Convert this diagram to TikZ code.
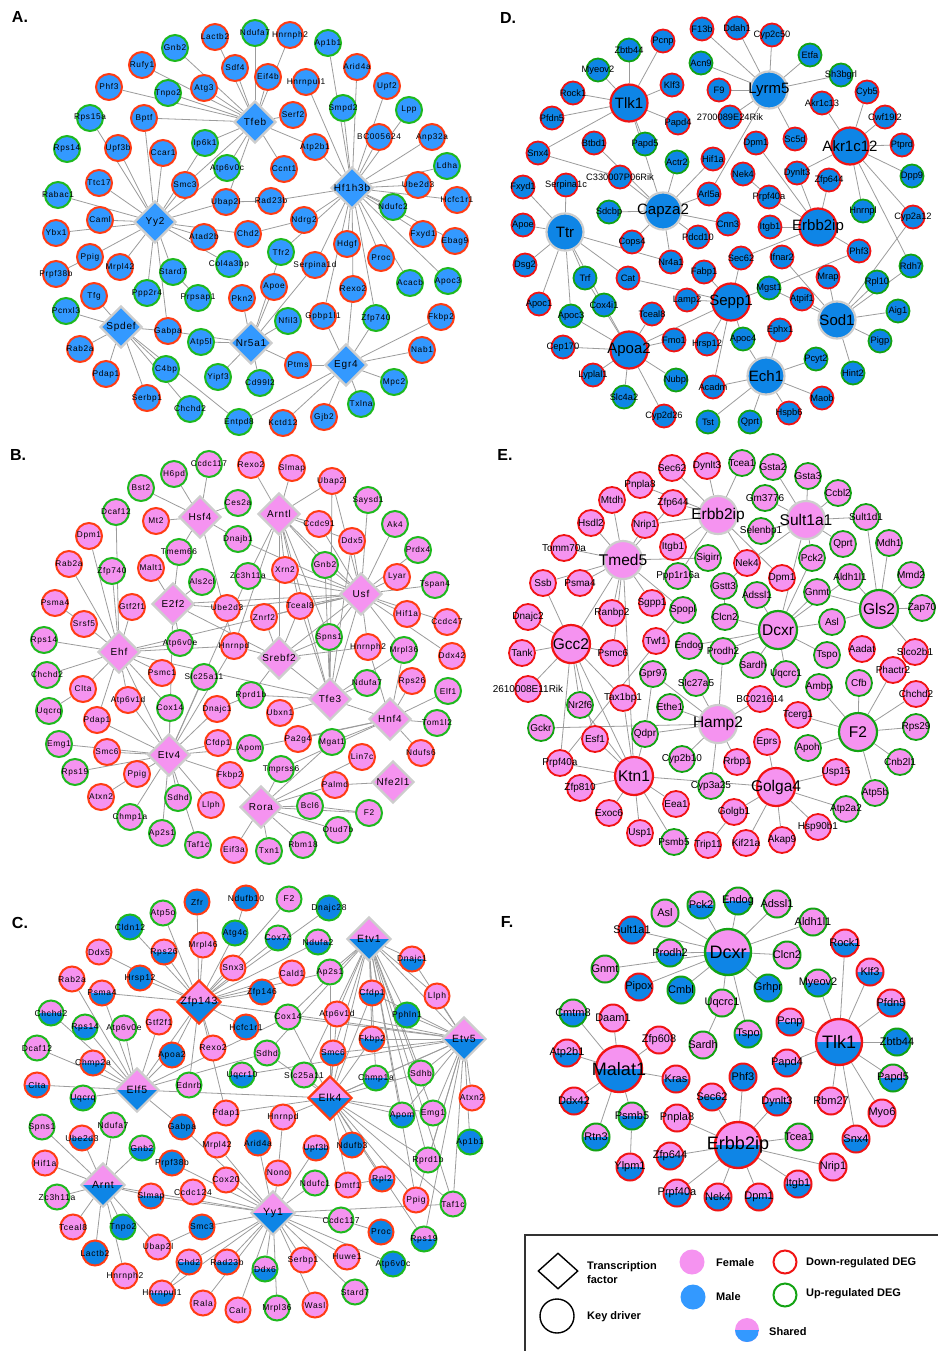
\documentclass[tikz,border=0pt]{standalone}
\usepackage{fontspec}
\setmainfont{Liberation Sans}
\setsansfont{Liberation Sans}
\newfontfamily\spc[LetterSpace=8]{Liberation Sans}
\usetikzlibrary{shapes.geometric}
\pgfdeclarelayer{back}
\pgfdeclarelayer{bg}
\pgfsetlayers{back,bg,main}
\definecolor{blA}{HTML}{3399FF}
\definecolor{blD}{HTML}{0E85E6}
\definecolor{pkA}{HTML}{F593F0}
\definecolor{rdA}{HTML}{FF3C14}
\definecolor{rdD}{HTML}{F01414}
\definecolor{gnA}{HTML}{1EB91E}
\definecolor{gnD}{HTML}{13A313}
\definecolor{gyO}{HTML}{CDCDCD}
\definecolor{edg}{HTML}{9C9C9C}
\colorlet{cB}{blA}\colorlet{cP}{pkA}\colorlet{cR}{rdA}\colorlet{cG}{gnA}
\tikzset{
 ed/.style={draw=edg,line width=0.8pt},
 gn/.style={circle,inner sep=0pt,minimum size=#1},
 fB/.style={fill=cB}, fP/.style={fill=cP},
 fS/.style={fill=cP,path picture={\fill[cB] (path picture bounding box.west) rectangle (path picture bounding box.south east);}},
 rR/.style={draw=cR}, rG/.style={draw=cG}, rY/.style={draw=gyO},
 tf/.style={diamond,inner sep=0pt,minimum width=42pt,minimum height=42pt,draw=gyO,line width=2.2pt},
 ttl/.style={font=\bfseries\fontsize{16}{16}\selectfont},
 lg/.style={anchor=west,font=\bfseries\fontsize{11}{14}\selectfont,align=left,inner sep=0pt},
}
\newcommand\G[4]{\node[pan,#1,label={[lab]center:#4}] (\pfx#4) at (#2,#3) {};}
\newcommand\K[4]{\node[pan,#1,label={[labK]center:#4}] (\pfx#4) at (#2,#3) {};}
\newcommand\T[4]{\node[tf,#1,label={[labT]center:#4}] (\pfx#4) at (#2,#3) {};}
\newcommand\E[2]{\foreach \n in {#2}{\draw[ed] (\pfx#1) -- (\pfx\n);}}
\newcommand\EE[2]{\draw[ed] (\pfx#1) -- (\pfx#2);}
\begin{document}
\begin{tikzpicture}[x=1pt,y=-1pt]
\useasboundingbox (0,0) rectangle (937,1351);
\begin{pgfonlayer}{back}
\fill[white] (0,0) rectangle (937,1351);
\end{pgfonlayer}
% ================= PANEL A =================
\def\pfx{a}
\colorlet{cB}{blA}\colorlet{cR}{rdA}\colorlet{cG}{gnA}
\tikzset{pan/.style={gn=26pt,line width=2pt,fB},
 lab/.style={font=\spc\fontsize{8.3}{9}\selectfont,inner sep=0pt},
 labT/.style={font=\spc\fontsize{10}{10}\selectfont,inner sep=0pt}}
\node[ttl] (tA) at (20,17) {A.};
\T{fB}{255}{122}{Tfeb}
\T{fB}{352}{188}{Hf1h3b}
\T{fB}{155}{222}{Yy2}
\T{fB}{121}{327}{Spdef}
\T{fB}{251}{343}{Nr5a1}
\T{fB}{346}{365}{Egr4}
\G{rR}{215}{37}{Lactb2}
\G{rG}{255}{33}{Ndufa7}
\G{rR}{290}{35}{Hnrnph2}
\G{rG}{175}{48}{Gnb2}
\G{rR}{142}{65}{Rufy1}
\G{rR}{235}{68}{Sdf4}
\G{rR}{268}{77}{Eif4b}
\G{rG}{328}{43}{Ap1b1}
\G{rR}{357}{67}{Arid4a}
\G{rR}{109}{87}{Phf3}
\G{rG}{168}{93}{Tnpo2}
\G{rR}{204}{88}{Atg3}
\G{rR}{306}{82}{Hnrnpul1}
\G{rR}{387}{86}{Upf2}
\G{rG}{343}{108}{Smpd2}
\G{rG}{409}{110}{Lpp}
\G{rG}{90}{118}{Rps15a}
\G{rR}{144}{118}{Bptf}
\G{rR}{293}{115}{Serf2}
\G{rR}{379}{137}{BC005624}
\G{rR}{432}{137}{Anp32a}
\G{rG}{67}{149}{Rps14}
\G{rR}{118}{148}{Upf3b}
\G{rR}{163}{153}{Ccar1}
\G{rG}{205}{143}{Ip6k1}
\G{rG}{227}{168}{Atp6v0c}
\G{rR}{284}{169}{Ccnt1}
\G{rR}{315}{147}{Atp2b1}
\G{rG}{447}{166}{Ldha}
\G{rR}{99}{183}{Ttc17}
\G{rR}{185}{185}{Smc3}
\G{rR}{418}{185}{Ube2d3}
\G{rR}{457}{200}{Hcfc1r1}
\G{rG}{58}{195}{Rabac1}
\G{rR}{226}{202}{Ubap2l}
\G{rR}{271}{201}{Rad23b}
\G{rG}{393}{207}{Ndufc2}
\G{rR}{100}{220}{Caml}
\G{rR}{304}{220}{Ndrg2}
\G{rR}{56}{233}{Ybx1}
\G{rR}{204}{237}{Atad2b}
\G{rR}{248}{234}{Chd2}
\G{rR}{423}{234}{Fxyd1}
\G{rR}{455}{241}{Ebag9}
\G{rR}{90}{257}{Ppig}
\G{rR}{120}{267}{Mrpl42}
\G{rR}{56}{274}{Prpf38b}
\G{rG}{173}{272}{Stard7}
\G{rG}{229}{264}{Col4a3bp}
\G{rG}{281}{252}{Tfr2}
\G{rR}{347}{244}{Hdgf}
\G{rR}{315}{265}{Serpina1d}
\G{rR}{381}{258}{Proc}
\G{rG}{410}{283}{Acacb}
\G{rG}{448}{281}{Apoc3}
\G{rR}{94}{296}{Tfg}
\G{rG}{147}{293}{Ppp2r4}
\G{rG}{198}{298}{Prpsap1}
\G{rR}{242}{298}{Pkn2}
\G{rR}{274}{287}{Apoe}
\G{rR}{353}{289}{Rexo2}
\G{rG}{66}{311}{Pcnxl3}
\G{rR}{323}{316}{Gpbp1l1}
\G{rG}{376}{318}{Zfp740}
\G{rR}{441}{317}{Fkbp2}
\G{rG}{288}{321}{Nfil3}
\G{rR}{168}{331}{Gabpa}
\G{rG}{201}{342}{Atp5l}
\G{rR}{80}{349}{Rab2a}
\G{rR}{422}{350}{Nab1}
\G{rR}{298}{365}{Ptms}
\G{rG}{166}{369}{C4bp}
\G{rR}{106}{374}{Pdap1}
\G{rG}{218}{377}{Yipf3}
\G{rG}{260}{383}{Cd99l2}
\G{rG}{394}{382}{Mpc2}
\G{rR}{147}{398}{Serbp1}
\G{rG}{190}{409}{Chchd2}
\G{rG}{361}{404}{Txlna}
\G{rR}{324}{417}{Gjb2}
\G{rG}{239}{422}{Entpd8}
\G{rR}{283}{423}{Kctd12}
\begin{pgfonlayer}{bg}
\E{Tfeb}{Gnb2,Lactb2,Ndufa7,Hnrnph2,Sdf4,Eif4b,Rufy1,Atg3,Tnpo2,Phf3,Bptf,Serf2,Atp2b1,Ccnt1,Ip6k1,Atp6v0c,Smc3,Ubap2l}
\E{Hf1h3b}{Hnrnpul1,Ap1b1,Arid4a,Upf2,Smpd2,Lpp,BC005624,Anp32a,Ldha,Ube2d3,Hcfc1r1,Ndufc2,Atp2b1,Rad23b,Ndrg2,Fxyd1,Ebag9,Hdgf,Serpina1d,Proc,Acacb,Apoc3,Rexo2,Zfp740,Gpbp1l1,Tfr2}
\E{Yy2}{Upf3b,Rps15a,Ttc17,Bptf,Ccar1,Ip6k1,Smc3,Atp6v0c,Rabac1,Caml,Ybx1,Ppig,Mrpl42,Ppp2r4,Stard7,Atad2b,Col4a3bp,Chd2,Gabpa,Ubap2l}
\E{Spdef}{Tfg,Pcnxl3,Rab2a,Pdap1,Serbp1,C4bp,Chchd2,Gabpa,Entpd8}
\E{Nr5a1}{Gabpa,Atp5l,Pkn2,Apoe,Serpina1d,Nfil3,Ptms,Yipf3,Cd99l2,Tfr2}
\E{Egr4}{Ptms,Gpbp1l1,Rexo2,Zfp740,Fkbp2,Nab1,Mpc2,Txlna,Gjb2,Kctd12,Entpd8}
\EE{Ppig}{Prpf38b}\EE{Ubap2l}{Rad23b}\EE{Chd2}{Ndrg2}\EE{Stard7}{Prpsap1}
\end{pgfonlayer}
% ================= PANEL D =================
\def\pfx{d}
\colorlet{cB}{blD}\colorlet{cR}{rdD}\colorlet{cG}{gnD}
\tikzset{pan/.style={gn=23pt,line width=1.8pt,fB},
 big/.style={gn=37pt,line width=2.2pt},
 lab/.style={font=\fontsize{9.3}{10}\selectfont,inner sep=0pt},
 labK/.style={font=\fontsize{15}{15}\selectfont,inner sep=0pt}}
\node[ttl] (tD) at (508,18) {D.};
\K{big,rR}{629}{103}{Tlk1}
\K{big,rY}{769}{90}{Lyrm5}
\K{big,rR}{850}{146}{Akr1c12}
\K{big,rY}{663}{211}{Capza2}
\K{big,rR}{818}{227}{Erbb2ip}
\K{big,rY}{565}{232}{Ttr}
\K{big,rR}{731}{302}{Sepp1}
\K{big,rY}{837}{320}{Sod1}
\K{big,rR}{629}{350}{Apoa2}
\K{big,rY}{766}{376}{Ech1}
\G{rR}{702}{29}{F13b}
\G{rR}{737}{28}{Ddah1}
\G{rR}{772}{35}{Cyp2c50}
\G{rR}{663}{41}{Pcnp}
\G{rG}{629}{50}{Zbtb44}
\G{rG}{810}{55}{Etfa}
\G{rG}{701}{63}{Acn9}
\G{rG}{598}{70}{Myeov2}
\G{rG}{841}{75}{Sh3bgrl}
\G{rR}{672}{85}{Klf3}
\G{rR}{867}{92}{Cyb5}
\G{rR}{719}{90}{F9}
\G{rR}{573}{93}{Rock1}
\G{rR}{822}{103}{Akr1c13}
\G{rR}{552}{118}{Pfdn5}
\G{rR}{730}{117}{2700089E24Rik}
\G{rR}{678}{123}{Papd4}
\G{rR}{885}{117}{Cwf19l2}
\G{rR}{902}{145}{Ptprd}
\G{rR}{594}{143}{Btbd1}
\G{rG}{645}{144}{Papd5}
\G{rR}{756}{143}{Dpm1}
\G{rR}{795}{139}{Sc5d}
\G{rR}{538}{153}{Snx4}
\G{rG}{677}{162}{Actr2}
\G{rR}{713}{159}{Hif1a}
\G{rG}{912}{176}{Dpp9}
\G{rR}{743}{174}{Nek4}
\G{rR}{797}{173}{Dynlt3}
\G{rR}{829}{180}{Zfp644}
\G{rR}{620}{177}{C330007P06Rik}
\G{rR}{523}{187}{Fxyd1}
\G{rR}{566}{185}{Serpina1c}
\G{rR}{709}{194}{Arl5a}
\G{rR}{769}{197}{Prpf40a}
\G{rG}{609}{212}{Sdcbp}
\G{rG}{863}{211}{Hnrnpl}
\G{rR}{913}{217}{Cyp2a12}
\G{rR}{728}{224}{Cnn3}
\G{rR}{770}{227}{Itgb1}
\G{rR}{523}{225}{Apoe}
\G{rR}{698}{237}{Pdcd10}
\G{rR}{632}{242}{Cops4}
\G{rR}{859}{251}{Phf3}
\G{rR}{525}{265}{Dsg2}
\G{rR}{741}{258}{Sec62}
\G{rR}{782}{257}{Ifnar2}
\G{rR}{671}{262}{Nr4a1}
\G{rR}{704}{272}{Fabp1}
\G{rR}{828}{277}{Mrap}
\G{rG}{911}{266}{Rdh7}
\G{rG}{585}{278}{Trf}
\G{rR}{628}{278}{Cat}
\G{rG}{877}{282}{Rpl10}
\G{rG}{769}{288}{Mgst1}
\G{rR}{687}{300}{Lamp2}
\G{rR}{802}{299}{Atpif1}
\G{rR}{539}{304}{Apoc1}
\G{rG}{604}{305}{Cox4i1}
\G{rG}{898}{311}{Aig1}
\G{rG}{571}{316}{Apoc3}
\G{rR}{652}{314}{Tceal8}
\G{rR}{780}{330}{Ephx1}
\G{rR}{674}{340}{Fmo1}
\G{rG}{743}{339}{Apoc4}
\G{rR}{563}{347}{Cep170}
\G{rR}{707}{344}{Hrsp12}
\G{rG}{880}{341}{Pigp}
\G{rG}{816}{359}{Pcyt2}
\G{rG}{853}{373}{Hint2}
\G{rR}{593}{375}{Lyplal1}
\G{rG}{676}{380}{Nubpl}
\G{rR}{713}{387}{Acadm}
\G{rR}{822}{398}{Maob}
\G{rG}{624}{397}{Slc4a2}
\G{rR}{789}{413}{Hspb6}
\G{rR}{664}{416}{Cyp2d26}
\G{rG}{708}{422}{Tst}
\G{rG}{750}{422}{Qprt}
\begin{pgfonlayer}{bg}
\E{Tlk1}{Zbtb44,Pcnp,Myeov2,Rock1,Klf3,Pfdn5,Papd4,Snx4,Papd5,Capza2}
\E{Lyrm5}{F13b,Ddah1,Cyp2c50,Etfa,Acn9,Sh3bgrl,F9,2700089E24Rik,Sc5d,Arl5a}
\E{Akr1c12}{Akr1c13,Cyb5,Cwf19l2,Ptprd,Dpp9,Hnrnpl,Dynlt3,Cyp2a12,Rdh7}
\E{Capza2}{C330007P06Rik,Btbd1,Actr2,Hif1a,Arl5a,Sdcbp,Cnn3,Pdcd10,Cops4,Nr4a1}
\E{Ttr}{Fxyd1,Serpina1c,Apoe,Dsg2,Apoc1,Apoc3,Trf,Cox4i1,Cat,Nr4a1}
\E{Erbb2ip}{Dpm1,Prpf40a,Dynlt3,Zfp644,Itgb1,Sec62,Phf3}
\E{Sepp1}{Fabp1,Cat,Lamp2,Sec62,Mgst1,Hrsp12,Apoc4,Acadm,Apoa2}
\E{Sod1}{Mgst1,Atpif1,Ifnar2,Mrap,Rpl10,Rdh7,Cyp2a12,Aig1,Pigp,Hint2}
\E{Apoa2}{Apoc3,Cox4i1,Cep170,Lyplal1,Slc4a2,Cyp2d26,Nubpl,Fmo1,Tceal8,Trf}
\E{Ech1}{Apoc4,Ephx1,Pcyt2,Maob,Hspb6,Qprt,Tst,Acadm}
\EE{Snx4}{C330007P06Rik}\EE{Nek4}{Prpf40a}\EE{Mgst1}{Phf3}
\end{pgfonlayer}
% ================= PANEL B =================
\def\pfx{b}
\colorlet{cB}{blA}\colorlet{cR}{rdA}\colorlet{cG}{gnA}
\tikzset{pan/.style={gn=26pt,line width=2pt,fP},
 lab/.style={font=\spc\fontsize{8.3}{9}\selectfont,inner sep=0pt},
 labT/.style={font=\spc\fontsize{10}{10}\selectfont,inner sep=0pt}}
\node[ttl] (tB) at (18,455) {B.};
\T{fP}{200}{517}{Hsf4}
\T{fP}{279}{514}{Arntl}
\T{fP}{173}{604}{E2f2}
\T{fP}{361}{594}{Usf}
\T{fP}{119}{652}{Ehf}
\T{fP}{279}{658}{Srebf2}
\T{fP}{330}{699}{Tfe3}
\T{fP}{390}{719}{Hnf4}
\T{fP}{169}{755}{Etv4}
\T{fP}{261}{807}{Rora}
\T{fP}{393}{782}{Nfe2l1}
\G{rG}{209}{464}{Ccdc117}
\G{rG}{174}{474}{H6pd}
\G{rR}{251}{465}{Rexo2}
\G{rR}{292}{468}{Slmap}
\G{rR}{332}{481}{Ubap2l}
\G{rG}{141}{488}{Bst2}
\G{rG}{238}{503}{Ces2a}
\G{rG}{368}{500}{Saysd1}
\G{rG}{116}{512}{Dcaf12}
\G{rR}{156}{521}{Mt2}
\G{rR}{319}{524}{Ccdc91}
\G{rG}{395}{524}{Ak4}
\G{rR}{89}{536}{Dpm1}
\G{rG}{238}{539}{Dnajb1}
\G{rR}{352}{541}{Ddx5}
\G{rG}{418}{550}{Prdx4}
\G{rG}{179}{552}{Tmem66}
\G{rR}{69}{564}{Rab2a}
\G{rG}{112}{571}{Zfp740}
\G{rR}{151}{568}{Malt1}
\G{rR}{285}{570}{Xrn2}
\G{rG}{325}{565}{Gnb2}
\G{rG}{248}{576}{Zc3h11a}
\G{rG}{202}{582}{Als2cl}
\G{rR}{397}{577}{Lyar}
\G{rG}{435}{585}{Tspan4}
\G{rR}{55}{603}{Psma4}
\G{rR}{132}{607}{Gtf2f1}
\G{rR}{227}{608}{Ube2d3}
\G{rR}{300}{606}{Tceal8}
\G{rR}{264}{617}{Znrf2}
\G{rR}{407}{614}{Hif1a}
\G{rR}{447}{622}{Ccdc47}
\G{rR}{84}{624}{Srsf5}
\G{rG}{329}{637}{Spns1}
\G{rG}{44}{640}{Rps14}
\G{rG}{180}{643}{Atp6v0e}
\G{rR}{234}{646}{Hnrnpd}
\G{rR}{368}{647}{Hnrnph2}
\G{rG}{404}{650}{Mrpl36}
\G{rR}{452}{656}{Ddx42}
\G{rG}{47}{675}{Chchd2}
\G{rR}{162}{673}{Psmc1}
\G{rG}{204}{677}{Slc25a11}
\G{rG}{367}{683}{Ndufa7}
\G{rR}{412}{681}{Rps26}
\G{rG}{448}{691}{Elf1}
\G{rR}{83}{689}{Clta}
\G{rR}{128}{700}{Atp6v1d}
\G{rG}{170}{708}{Cox14}
\G{rG}{251}{695}{Rprd1b}
\G{rR}{217}{709}{Dnajc1}
\G{rR}{280}{713}{Ubxn1}
\G{rG}{49}{711}{Uqcrq}
\G{rR}{97}{720}{Pdap1}
\G{rG}{437}{723}{Tom1l2}
\G{rR}{298}{739}{Pa2g4}
\G{rG}{332}{742}{Mgat1}
\G{rG}{59}{744}{Emg1}
\G{rR}{107}{752}{Smc6}
\G{rR}{218}{743}{Cfdp1}
\G{rG}{250}{748}{Apom}
\G{rR}{421}{753}{Ndufs6}
\G{rR}{362}{757}{Lin7c}
\G{rG}{75}{772}{Rps19}
\G{rR}{137}{774}{Ppig}
\G{rR}{230}{775}{Fkbp2}
\G{rG}{281}{769}{Tmprss6}
\G{rR}{335}{785}{Palmd}
\G{rR}{101}{797}{Atxn2}
\G{rG}{178}{798}{Sdhd}
\G{rR}{211}{805}{Llph}
\G{rG}{310}{806}{Bcl6}
\G{rG}{369}{813}{F2}
\G{rG}{130}{817}{Chmp1a}
\G{rG}{338}{830}{Otud7b}
\G{rG}{162}{833}{Ap2s1}
\G{rG}{198}{845}{Taf1c}
\G{rR}{234}{850}{Eif3a}
\G{rG}{269}{851}{Txn1}
\G{rG}{303}{845}{Rbm18}
\begin{pgfonlayer}{bg}
\E{Hsf4}{H6pd,Ccdc117,Bst2,Ces2a,Mt2,Dnajb1,Tmem66,Hnrnpd}
\E{Arntl}{Rexo2,Slmap,Ubap2l,Ccdc91,Usf,Tfe3,Srebf2,Zc3h11a,Xrn2,Gnb2,Ddx5,Hnrnpd,Tceal8,Spns1}
\E{Usf}{Ubap2l,Saysd1,Ak4,Prdx4,Lyar,Tspan4,Hif1a,Ccdc47,Ddx5,Gnb2,Ccdc91,Dnajb1,Xrn2,Zc3h11a,Tceal8,E2f2,Ube2d3,Srebf2,Tfe3,Spns1,Hnrnph2,Mrpl36,Znrf2,Ehf,Ddx42}
\E{E2f2}{Tmem66,Als2cl,Malt1,Ube2d3,Atp6v0e,Etv4,Srebf2}
\E{Ehf}{Dcaf12,Dpm1,Rab2a,Zfp740,Gtf2f1,Srsf5,Rps14,Chchd2,Clta,Atp6v1d,Pdap1,Psmc1,Cox14,Atp6v0e,Hnrnpd,Tfe3,Etv4}
\E{Srebf2}{Hnrnpd,Znrf2,Tceal8,Spns1,Hnrnph2,Rprd1b,Tfe3}
\E{Tfe3}{Spns1,Ndufa7,Mrpl36,Hnf4,Ubxn1,Tceal8,Gnb2,Ddx5,Ubap2l,Rprd1b}
\E{Hnf4}{Mrpl36,Rps26,Elf1,Tom1l2,Ndufs6,Mgat1,Pa2g4,Apom,Tmprss6,Hnrnph2}
\E{Etv4}{Pdap1,Emg1,Smc6,Rps19,Ppig,Chmp1a,Ap2s1,Sdhd,Taf1c,Llph,Fkbp2,Cfdp1,Apom,Dnajc1,Slc25a11,Cox14,Atp6v1d,Hnrnpd,Zc3h11a}
\E{Rora}{Fkbp2,Tmprss6,Mgat1,Lin7c,Palmd,Bcl6,F2,Otud7b,Rbm18,Txn1,Eif3a}
\EE{Psma4}{Srsf5}\EE{Clta}{Uqcrq}\EE{Atxn2}{Ppig}\EE{Dnajc1}{Rprd1b}\EE{Nfe2l1}{Palmd}\EE{Bcl6}{F2}
\end{pgfonlayer}
% ================= PANEL E =================
\def\pfx{e}
\colorlet{cB}{blD}\colorlet{cR}{rdD}\colorlet{cG}{gnD}
\tikzset{pan/.style={gn=26pt,line width=1.8pt,fP},
 big/.style={gn=38pt,line width=2.2pt},
 lab/.style={font=\fontsize{10}{10}\selectfont,inner sep=0pt},
 labK/.style={font=\fontsize{15.5}{15.5}\selectfont,inner sep=0pt}}
\node[ttl] (tE) at (505,455) {E.};
\K{big,rY}{718}{515}{Erbb2ip}
\K{big,rY}{806}{520}{Sult1a1}
\K{big,rY}{623}{560}{Tmed5}
\K{big,rG}{879}{609}{Gls2}
\K{big,rG}{778}{630}{Dcxr}
\K{big,rR}{571}{644}{Gcc2}
\K{big,rY}{718}{724}{Hamp2}
\K{big,rG}{858}{732}{F2}
\K{big,rR}{634}{776}{Ktn1}
\K{big,rR}{776}{787}{Golga4}
\G{rR}{672}{468}{Sec62}
\G{rR}{707}{466}{Dynlt3}
\G{rG}{742}{463}{Tcea1}
\G{rG}{773}{467}{Gsta2}
\G{rG}{808}{476}{Gsta3}
\G{rR}{640}{485}{Pnpla8}
\G{rG}{838}{493}{Ccbl2}
\G{rR}{612}{500}{Mtdh}
\G{rR}{673}{503}{Zfp644}
\G{rG}{765}{498}{Gm3776}
\G{rG}{866}{517}{Sult1d1}
\G{rR}{591}{523}{Hsdl2}
\G{rR}{645}{525}{Nrip1}
\G{rG}{761}{531}{Selenbp1}
\G{rG}{889}{543}{Mdh1}
\G{rG}{843}{544}{Qprt}
\G{rR}{564}{548}{Tomm70a}
\G{rR}{673}{547}{Itgb1}
\G{rG}{708}{558}{Sigirr}
\G{rR}{747}{563}{Nek4}
\G{rG}{812}{558}{Pck2}
\G{rG}{911}{575}{Mmd2}
\G{rR}{543}{583}{Ssb}
\G{rR}{580}{583}{Psma4}
\G{rG}{678}{576}{Ppp1r16a}
\G{rR}{782}{578}{Dpm1}
\G{rG}{850}{577}{Aldh1l1}
\G{rG}{724}{586}{Gstt3}
\G{rG}{757}{595}{Adssl1}
\G{rG}{817}{592}{Gnmt}
\G{rG}{922}{608}{Zap70}
\G{rR}{652}{603}{Sgpp1}
\G{rG}{683}{610}{Spopl}
\G{rR}{612}{613}{Ranbp2}
\G{rR}{528}{617}{Dnajc2}
\G{rG}{725}{617}{Clcn2}
\G{rG}{832}{622}{Asl}
\G{rR}{656}{641}{Twf1}
\G{rG}{689}{646}{Endog}
\G{rG}{723}{651}{Prodh2}
\G{rR}{522}{653}{Tank}
\G{rR}{613}{653}{Psmc6}
\G{rG}{827}{655}{Tspo}
\G{rR}{862}{649}{Aadat}
\G{rR}{915}{652}{Slco2b1}
\G{rG}{753}{665}{Sardh}
\G{rG}{786}{674}{Uqcrc1}
\G{rG}{653}{674}{Gpr97}
\G{rG}{696}{683}{Slc27a5}
\G{rG}{819}{687}{Ambp}
\G{rG}{859}{683}{Cfb}
\G{rR}{893}{670}{Phactr2}
\G{rR}{916}{694}{Chchd2}
\G{rR}{528}{689}{2610008E11Rik}
\G{rR}{623}{698}{Tax1bp1}
\G{rG}{580}{705}{Nr2f6}
\G{rR}{760}{699}{BC021614}
\G{rG}{670}{707}{Ethe1}
\G{rR}{798}{715}{Tcerg1}
\G{rG}{541}{728}{Gckr}
\G{rG}{645}{734}{Qdpr}
\G{rG}{916}{727}{Rps29}
\G{rR}{595}{739}{Esf1}
\G{rR}{767}{742}{Eprs}
\G{rG}{808}{748}{Apoh}
\G{rG}{682}{759}{Cyp2b10}
\G{rR}{737}{762}{Rrbp1}
\G{rR}{560}{763}{Prpf40a}
\G{rG}{900}{762}{Cnb2l1}
\G{rR}{836}{772}{Usp15}
\G{rG}{711}{786}{Cyp3a25}
\G{rR}{580}{788}{Zfp810}
\G{rG}{875}{793}{Atp5b}
\G{rR}{676}{804}{Eea1}
\G{rR}{734}{812}{Golgb1}
\G{rG}{846}{809}{Atp2a2}
\G{rR}{609}{813}{Exoc6}
\G{rR}{818}{827}{Hsp90b1}
\G{rR}{640}{833}{Usp1}
\G{rG}{674}{842}{Psmb5}
\G{rR}{708}{845}{Trip11}
\G{rR}{746}{843}{Kif21a}
\G{rR}{782}{840}{Akap9}
\begin{pgfonlayer}{bg}
\E{Erbb2ip}{Sec62,Dynlt3,Tcea1,Pnpla8,Zfp644,Nrip1,Itgb1,Ppp1r16a,Nek4,Dpm1}
\E{Sult1a1}{Gsta2,Gsta3,Gm3776,Ccbl2,Sult1d1,Qprt,Selenbp1,Pck2,Dcxr,Nek4}
\E{Tmed5}{Mtdh,Hsdl2,Nrip1,Tomm70a,Ssb,Psma4,Sigirr,Ranbp2,Sgpp1,Spopl,Gcc2,Ktn1,Zfp644,Psmc6}
\E{Gcc2}{Ssb,Dnajc2,Tank,Psmc6,2610008E11Rik,Nr2f6,Tax1bp1,Ktn1,Prpf40a,Esf1}
\E{Dcxr}{Adssl1,Clcn2,Endog,Prodh2,Sardh,Uqcrc1,Tspo,Asl,Gnmt,Pck2,Aldh1l1}
\E{Gls2}{Sult1d1,Mdh1,Mmd2,Zap70,Slco2b1,Aldh1l1,Gnmt,Asl}
\E{Hamp2}{Gpr97,Slc27a5,Ethe1,BC021614,Gckr,Qdpr,Cyp2b10,Rrbp1,Cyp3a25,Prodh2}
\E{Ktn1}{Tax1bp1,Esf1,Prpf40a,Zfp810,Exoc6,Usp1,Psmb5,Eea1,Golga4,Qdpr,Nr2f6}
\E{Golga4}{Eprs,Usp15,Atp2a2,Hsp90b1,Akap9,Kif21a,Golgb1}
\E{F2}{Ambp,Cfb,Phactr2,Chchd2,Rps29,Cnb2l1,Atp5b,Apoh,Tcerg1}
\EE{Nek4}{Gstt3}\EE{Gstt3}{Clcn2}\EE{Golgb1}{Trip11}\EE{Gpr97}{Qdpr}\EE{Spopl}{Prpf40a}
\end{pgfonlayer}
% ================= PANEL C =================
\def\pfx{c}
\colorlet{cB}{blD}\colorlet{cR}{rdA}\colorlet{cG}{gnA}
\tikzset{pan/.style={gn=25pt,line width=2pt,fP},
 lab/.style={font=\spc\fontsize{8.5}{9}\selectfont,inner sep=0pt},
 labT/.style={font=\spc\fontsize{10.5}{10.5}\selectfont,inner sep=0pt}}
\node[ttl] (tC) at (20,923) {C.};
\T{fS,minimum width=44pt,minimum height=44pt}{369}{939}{Etv1}
\T{fS,draw=cR,minimum width=44pt,minimum height=44pt}{199}{1002}{Zfp143}
\T{fS,minimum width=44pt,minimum height=44pt}{464}{1039}{Etv5}
\T{fS,minimum width=44pt,minimum height=44pt}{137}{1090}{Elf5}
\T{fS,draw=cR,minimum width=44pt,minimum height=44pt}{330}{1098}{Elk4}
\T{fS,minimum width=44pt,minimum height=44pt}{103}{1185}{Arnt}
\T{fS,minimum width=44pt,minimum height=44pt}{273}{1213}{Yy1}
\G{fB,rR}{197}{902}{Zfr}
\G{fB,rR}{246}{898}{Ndufb10}
\G{fP,rG}{289}{899}{F2}
\G{fB,rG}{329}{908}{Dnajc28}
\G{fP,rG}{163}{913}{Atp5o}
\G{fB,rG}{130}{927}{Cldn12}
\G{fB,rG}{235}{933}{Atg4c}
\G{fS,rG}{278}{938}{Cox7c}
\G{fS,rG}{318}{942}{Ndufa2}
\G{fP,rR}{203}{945}{Mrpl46}
\G{fS,rR}{164}{952}{Rps26}
\G{fP,rR}{99}{952}{Ddx5}
\G{fS,rR}{412}{959}{Dnajc1}
\G{fP,rR}{233}{968}{Snx3}
\G{fP,rR}{292}{973}{Cald1}
\G{fP,rG}{330}{972}{Ap2s1}
\G{fP,rR}{72}{979}{Rab2a}
\G{fB,rR}{140}{978}{Hrsp12}
\G{fS,rR}{102}{993}{Psma4}
\G{fB,rR}{262}{992}{Zfp146}
\G{fS,rR}{372}{993}{Cfdp1}
\G{fP,rR}{437}{996}{Llph}
\G{fS,rG}{51}{1013}{Chchd2}
\G{fB,rG}{407}{1015}{Pphln1}
\G{fP,rG}{288}{1017}{Cox14}
\G{fP,rR}{337}{1014}{Atp6v1d}
\G{fS,rG}{85}{1027}{Rps14}
\G{fP,rG}{124}{1028}{Atp6v0e}
\G{fP,rR}{159}{1022}{Gtf2f1}
\G{fB,rR}{246}{1027}{Hcfc1r1}
\G{fS,rR}{372}{1039}{Fkbp2}
\G{fP,rG}{37}{1048}{Dcaf12}
\G{fP,rR}{213}{1048}{Rexo2}
\G{fP,rG}{267}{1053}{Sdhd}
\G{fB,rR}{172}{1055}{Apoa2}
\G{fS,rR}{333}{1053}{Smc6}
\G{fS,rR}{93}{1063}{Chmp2a}
\G{fP,rG}{304}{1075}{Slc25a11}
\G{fP,rG}{421}{1073}{Sdhb}
\G{fS,rG}{242}{1075}{Uqcr10}
\G{fS,rG}{376}{1078}{Chmp1a}
\G{fP,rG}{189}{1085}{Ednrb}
\G{fS,rR}{37}{1085}{Clta}
\G{fS,rG}{83}{1098}{Uqcrq}
\G{fP,rR}{472}{1098}{Atxn2}
\G{fP,rR}{226}{1113}{Pdap1}
\G{fP,rR}{283}{1117}{Hnrnpd}
\G{fS,rG}{402}{1115}{Apom}
\G{fP,rG}{433}{1113}{Emg1}
\G{fB,rG}{470}{1142}{Ap1b1}
\G{fP,rG}{42}{1127}{Spns1}
\G{fP,rG}{113}{1125}{Ndufa7}
\G{fS,rR}{82}{1138}{Ube2d3}
\G{fB,rR}{182}{1127}{Gabpa}
\G{fS,rG}{142}{1148}{Gnb2}
\G{fP,rR}{217}{1145}{Mrpl42}
\G{fB,rR}{258}{1143}{Arid4a}
\G{fS,rR}{316}{1148}{Upf3b}
\G{fB,rR}{352}{1145}{Ndufb3}
\G{fP,rG}{428}{1160}{Rprd1b}
\G{fP,rR}{45}{1163}{Hif1a}
\G{fB,rR}{172}{1163}{Prpf38b}
\G{fP,rR}{226}{1180}{Cox20}
\G{fP,rR}{278}{1173}{Nono}
\G{fP,rG}{315}{1183}{Ndufc1}
\G{fP,rR}{348}{1185}{Dmtf1}
\G{fS,rR}{382}{1179}{Rpl2}
\G{fP,rG}{57}{1197}{Zc3h11a}
\G{fS,rR}{151}{1196}{Slmap}
\G{fP,rR}{193}{1192}{Ccdc124}
\G{fP,rR}{416}{1200}{Ppig}
\G{fP,rG}{453}{1204}{Taf1c}
\G{fP,rR}{73}{1227}{Tceal8}
\G{fB,rG}{123}{1227}{Tnpo2}
\G{fB,rR}{202}{1227}{Smc3}
\G{fP,rG}{341}{1220}{Ccdc117}
\G{fB,rR}{381}{1232}{Proc}
\G{fS,rG}{424}{1239}{Rps19}
\G{fP,rR}{158}{1247}{Ubap2l}
\G{fB,rR}{95}{1253}{Lactb2}
\G{fS,rR}{189}{1262}{Chd2}
\G{fS,rR}{227}{1262}{Rad23b}
\G{fS,rG}{265}{1269}{Ddx6}
\G{fP,rR}{303}{1260}{Serbp1}
\G{fP,rR}{347}{1257}{Huwe1}
\G{fB,rG}{393}{1264}{Atp6v0c}
\G{fP,rR}{125}{1276}{Hnrnph2}
\G{fP,rG}{355}{1292}{Stard7}
\G{fS,rR}{162}{1293}{Hnrnpul1}
\G{fP,rR}{203}{1303}{Rala}
\G{fP,rR}{238}{1310}{Calr}
\G{fP,rG}{277}{1308}{Mrpl36}
\G{fP,rR}{315}{1305}{Wasl}
\begin{pgfonlayer}{bg}
\E{Zfp143}{Cldn12,Atp5o,Zfr,Mrpl46,Atg4c,F2,Cox7c,Dnajc28,Ndufa2,Rps26,Ddx5,Hrsp12,Snx3,Cald1,Zfp146,Ap2s1,Hcfc1r1,Rexo2,Apoa2,Ednrb,Pdap1,Etv5,Psma4,Elf5}
\E{Etv1}{Dnajc1,Llph,Cfdp1,Pphln1,Fkbp2,Smc6,Ap2s1,Cox14,Atp6v1d,Elk4,Etv5,Chmp1a,Sdhb,Emg1,Apom,Slc25a11,Rprd1b,Ppig,Taf1c,Sdhd}
\E{Etv5}{Llph,Dnajc1,Pphln1,Atp6v1d,Fkbp2,Cox14,Uqcr10,Elk4,Atxn2,Ap1b1,Sdhb,Chmp1a,Apom,Emg1,Rprd1b,Ppig,Taf1c,Rps19,Smc6,Cfdp1}
\E{Elk4}{Cfdp1,Atp6v1d,Fkbp2,Smc6,Chmp1a,Sdhb,Apom,Emg1,Ndufb3,Rpl2,Dmtf1,Ppig,Rps19,Rprd1b,Hnrnpd,Pdap1,Slc25a11,Sdhd,Ap2s1,Cox14,Elf5,Taf1c}
\E{Elf5}{Rab2a,Psma4,Chchd2,Rps14,Atp6v0e,Gtf2f1,Dcaf12,Chmp2a,Clta,Uqcrq,Apoa2,Gabpa,Cox14,Sdhd}
\E{Arnt}{Spns1,Ube2d3,Ndufa7,Gnb2,Hif1a,Zc3h11a,Tceal8,Lactb2,Tnpo2,Hnrnph2,Ubap2l,Slmap,Yy1}
\E{Yy1}{Slmap,Ccdc124,Prpf38b,Cox20,Mrpl42,Arid4a,Nono,Upf3b,Ndufc1,Taf1c,Ccdc117,Atp6v0c,Huwe1,Stard7,Serbp1,Wasl,Mrpl36,Ddx6,Calr,Rala,Rad23b,Chd2,Hnrnpul1,Smc3,Gabpa}
\EE{Atg4c}{Ndufb10}\EE{Ccdc117}{Proc}\EE{Ubap2l}{Smc3}\EE{Hnrnpd}{Nono}\EE{Dmtf1}{Rpl2}\EE{Chd2}{Hnrnpul1}
\end{pgfonlayer}
% ================= PANEL F =================
\def\pfx{f}
\colorlet{cB}{blD}\colorlet{cR}{rdD}\colorlet{cG}{gnD}
\tikzset{pan/.style={gn=27pt,line width=2pt,fP},
 big/.style={gn=46pt,line width=2.4pt},
 lab/.style={font=\fontsize{11}{11}\selectfont,inner sep=0pt},
 labK/.style={font=\fontsize{18}{18}\selectfont,inner sep=0pt}}
\node[ttl] (tF) at (507,922) {F.};
\K{big,fS,rG}{728}{952}{Dcxr}
\K{big,fS,rR}{839}{1042}{Tlk1}
\K{big,fS,rR}{619}{1069}{Malat1}
\K{big,fS,rR}{738}{1145}{Erbb2ip}
\G{fP,rG}{665}{913}{Asl}
\G{fS,rG}{701}{905}{Pck2}
\G{fS,rG}{738}{901}{Endog}
\G{fP,rG}{777}{904}{Adssl1}
\G{fP,rG}{813}{922}{Aldh1l1}
\G{fB,rR}{632}{930}{Sult1a1}
\G{fS,rG}{670}{953}{Prodh2}
\G{fP,rG}{787}{955}{Clcn2}
\G{fS,rR}{845}{943}{Rock1}
\G{fP,rG}{605}{969}{Gnmt}
\G{fS,rR}{870}{972}{Klf3}
\G{fB,rR}{639}{987}{Pipox}
\G{fB,rG}{681}{990}{Cmbl}
\G{fB,rG}{768}{988}{Grhpr}
\G{fS,rG}{818}{983}{Myeov2}
\G{fP,rG}{722}{1003}{Uqcrc1}
\G{fS,rR}{891}{1003}{Pfdn5}
\G{fS,rG}{573}{1013}{Cmtm8}
\G{fP,rR}{613}{1018}{Daam1}
\G{fS,rR}{790}{1022}{Pcnp}
\G{fS,rG}{748}{1034}{Tspo}
\G{fP,rR}{659}{1040}{Zfp608}
\G{fP,rG}{703}{1045}{Sardh}
\G{fB,rG}{897}{1042}{Zbtb44}
\G{fS,rR}{567}{1053}{Atp2b1}
\G{fS,rR}{787}{1063}{Papd4}
\G{fS,rG}{893}{1078}{Papd5}
\G{fS,rR}{676}{1079}{Kras}
\G{fB,rR}{743}{1077}{Phf3}
\G{fS,rR}{574}{1101}{Ddx42}
\G{fS,rR}{712}{1097}{Sec62}
\G{fS,rR}{777}{1102}{Dynlt3}
\G{fP,rR}{831}{1101}{Rbm27}
\G{fS,rG}{632}{1116}{Psmb5}
\G{fP,rR}{677}{1118}{Pnpla8}
\G{fP,rR}{882}{1113}{Myo6}
\G{fS,rG}{596}{1137}{Rtn3}
\G{fP,rG}{799}{1137}{Tcea1}
\G{fS,rR}{856}{1139}{Snx4}
\G{fS,rR}{670}{1156}{Zfp644}
\G{fS,rR}{630}{1167}{Ylpm1}
\G{fP,rR}{833}{1167}{Nrip1}
\G{fS,rR}{798}{1184}{Itgb1}
\G{fS,rR}{677}{1193}{Prpf40a}
\G{fS,rR}{718}{1197}{Nek4}
\G{fS,rR}{759}{1197}{Dpm1}
\begin{pgfonlayer}{bg}
\E{Dcxr}{Asl,Pck2,Endog,Adssl1,Aldh1l1,Sult1a1,Prodh2,Clcn2,Gnmt,Pipox,Cmbl,Grhpr,Uqcrc1,Tspo}
\E{Tlk1}{Rock1,Klf3,Myeov2,Pfdn5,Pcnp,Zbtb44,Papd4,Papd5,Rbm27,Snx4,Myo6}
\E{Malat1}{Cmtm8,Daam1,Zfp608,Atp2b1,Kras,Ddx42,Psmb5,Rtn3}
\E{Erbb2ip}{Pnpla8,Sec62,Phf3,Dynlt3,Tcea1,Zfp644,Nrip1,Itgb1,Dpm1,Nek4,Prpf40a}
\EE{Uqcrc1}{Sardh}\EE{Psmb5}{Ylpm1}
\end{pgfonlayer}
% ================= LEGEND =================
\draw[line width=1.3pt,draw=black!80] (525,1360) -- (525,1235) -- (945,1235);
\node[diamond,draw=black,line width=1.4pt,minimum width=40pt,minimum height=36pt,inner sep=0pt] (lgD) at (558,1271) {};
\node[circle,draw=black,line width=1.4pt,minimum size=34pt,inner sep=0pt] (lgC) at (557,1316) {};
\node[lg] (lgT) at (587,1273) {Transcription\\factor};
\node[lg] (lgK) at (587,1317) {Key driver};
\node[circle,fill=pkA,minimum size=25pt,inner sep=0pt] (lgF) at (692,1262) {};
\node[lg] (lgFt) at (716,1263) {Female};
\node[circle,fill=blA,minimum size=25pt,inner sep=0pt] (lgM) at (693,1297) {};
\node[lg] (lgMt) at (716,1297) {Male};
\node[circle,draw=rdD,line width=2pt,minimum size=23pt,inner sep=0pt] (lgR) at (785,1262) {};
\node[lg] (lgRt) at (806,1263) {Down-regulated DEG};
\node[circle,draw=gnD,line width=2pt,minimum size=23pt,inner sep=0pt] (lgU) at (785,1295) {};
\node[lg] (lgUt) at (806,1294) {Up-regulated DEG};
\colorlet{cB}{blA}
\node[circle,fS,minimum size=24pt,inner sep=0pt] (lgS) at (747,1330) {};
\node[lg] (lgSt) at (769,1332) {Shared};
\end{tikzpicture}
\end{document}
